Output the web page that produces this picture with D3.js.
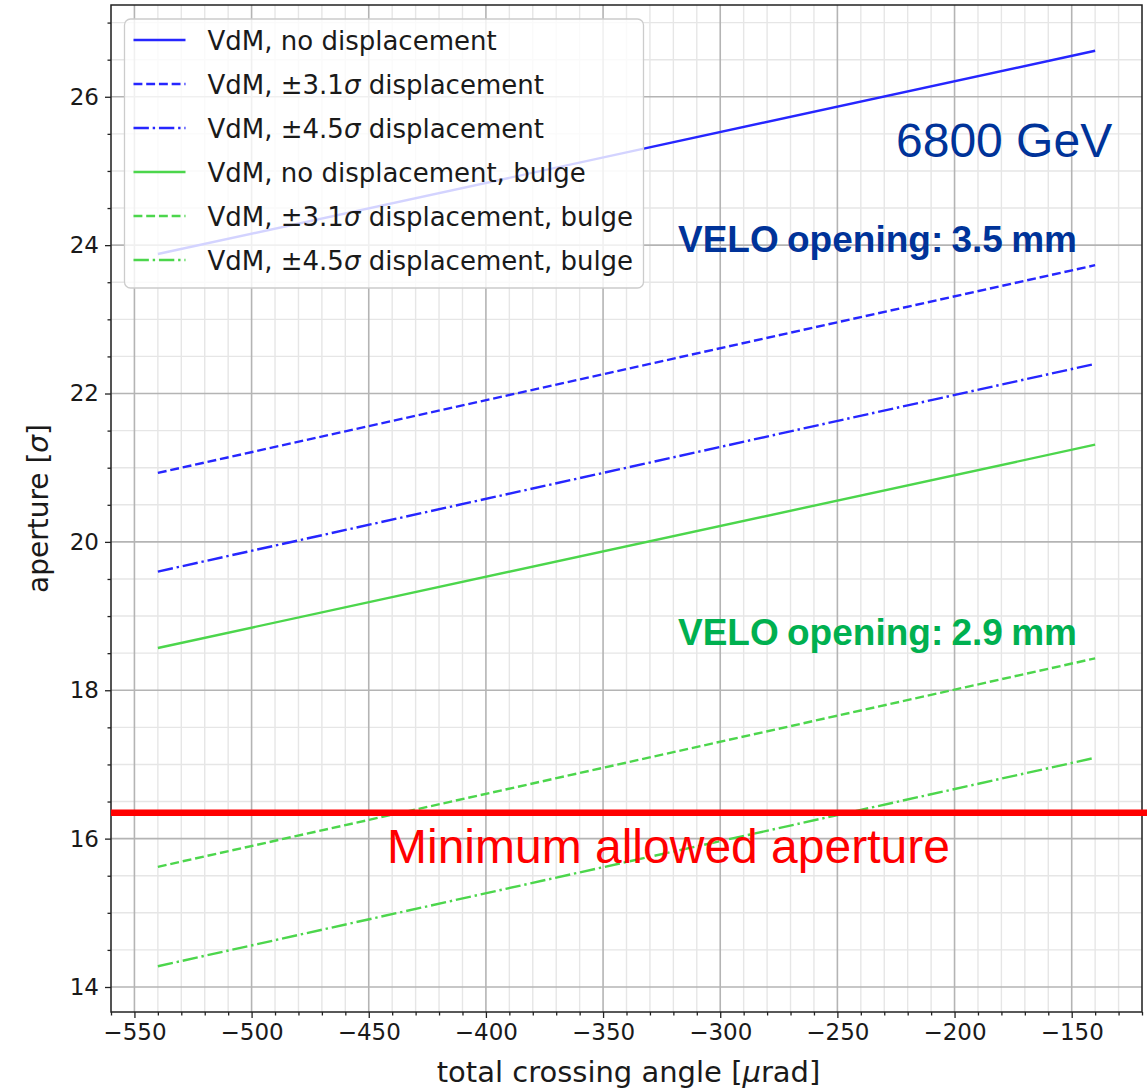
<!DOCTYPE html>
<html>
<head>
<meta charset="utf-8">
<script src="https://cdn.jsdelivr.net/npm/d3@7"></script>
<style>
  html, body { margin: 0; padding: 0; background: #fff; }
  svg { display: block; }
</style>
</head>
<body>
<svg id="chart" width="1147" height="1089"></svg>
<script>
// Total crossing angle (µrad) at which each aperture curve is evaluated
const crossingAngles = [-540, -140];

// Aperture in units of beam sigma
const vdmNoDisp        = [23.88, 26.62];
const vdm31Disp        = [20.93, 23.73];
const vdm45Disp        = [19.60, 22.40];
const vdmNoDispBulge   = [18.57, 21.31];
const vdm31DispBulge   = [15.62, 18.43];
const vdm45DispBulge   = [14.28, 17.09];

// Minimum allowed aperture (sigma)
const minAperture = 16.35;

const xTickValues = [-550, -500, -450, -400, -350, -300, -250, -200, -150];
const yTickValues = [14, 16, 18, 20, 22, 24, 26];

const seriesLabels = [
  ["VdM, no displacement"],
  ["VdM, ", "±3.1", "σ", " displacement"],
  ["VdM, ", "±4.5", "σ", " displacement"],
  ["VdM, no displacement, bulge"],
  ["VdM, ", "±3.1", "σ", " displacement, bulge"],
  ["VdM, ", "±4.5", "σ", " displacement, bulge"]
];
const seriesValues = [vdmNoDisp, vdm31Disp, vdm45Disp, vdmNoDispBulge, vdm31DispBulge, vdm45DispBulge];

const BLUE = "#2626ff", GREEN = "#4cd64c";
const lw = 2.4;
const dashes = {
  solid: null,
  dashed: [3.7 * lw, 1.6 * lw].join(","),
  dashdot: [6.4 * lw, 1.6 * lw, 1 * lw, 1.6 * lw].join(",")
};
const seriesStyle = [
  { color: BLUE,  dash: dashes.solid },
  { color: BLUE,  dash: dashes.dashed },
  { color: BLUE,  dash: dashes.dashdot },
  { color: GREEN, dash: dashes.solid },
  { color: GREEN, dash: dashes.dashed },
  { color: GREEN, dash: dashes.dashdot }
];

const svg = d3.select("#chart");
const W = 1147, H = 1089;
const plot = { left: 111, right: 1142, top: 5, bottom: 1012 };

// Autoscaled limits with 5% margins around the data
const allY = seriesValues.flat();
const yMin = d3.min(allY), yMax = d3.max(allY);
const xMin = d3.min(crossingAngles), xMax = d3.max(crossingAngles);
const xm = (xMax - xMin) * 0.05, ym = (yMax - yMin) * 0.05;

const x = d3.scaleLinear().domain([xMin - xm, xMax + xm]).range([plot.left, plot.right]);
const y = d3.scaleLinear().domain([yMin - ym, yMax + ym]).range([plot.bottom, plot.top]);

const FONT = "'DejaVu Sans', sans-serif";
const TXT = "#1a1a1a";

// Grid: minor then major
const xMinor = d3.range(-560, -119, 10).filter(v => v % 50 !== 0 && v >= x.domain()[0] && v <= x.domain()[1]);
const yMinor = d3.range(13.5, 27.5, 0.5).filter(v => v % 2 !== 0 && v >= y.domain()[0] && v <= y.domain()[1]);

const grid = svg.append("g");
grid.selectAll(".gxm").data(xMinor).join("line")
  .attr("x1", d => x(d)).attr("x2", d => x(d)).attr("y1", plot.top).attr("y2", plot.bottom)
  .attr("stroke", "#e6e6e6").attr("stroke-width", 1.4);
grid.selectAll(".gym").data(yMinor).join("line")
  .attr("y1", d => y(d)).attr("y2", d => y(d)).attr("x1", plot.left).attr("x2", plot.right)
  .attr("stroke", "#e6e6e6").attr("stroke-width", 1.4);
grid.selectAll(".gx").data(xTickValues).join("line")
  .attr("x1", d => x(d)).attr("x2", d => x(d)).attr("y1", plot.top).attr("y2", plot.bottom)
  .attr("stroke", "#b4b4b4").attr("stroke-width", 1.6);
grid.selectAll(".gy").data(yTickValues).join("line")
  .attr("y1", d => y(d)).attr("y2", d => y(d)).attr("x1", plot.left).attr("x2", plot.right)
  .attr("stroke", "#b4b4b4").attr("stroke-width", 1.6);

// Data lines
const line = d3.line().x(d => x(d[0])).y(d => y(d[1]));
seriesValues.forEach((vals, i) => {
  const pts = crossingAngles.map((a, j) => [a, vals[j]]);
  svg.append("path").datum(pts)
    .attr("d", line)
    .attr("fill", "none")
    .attr("stroke", seriesStyle[i].color)
    .attr("stroke-width", lw)
    .attr("stroke-dasharray", seriesStyle[i].dash);
});

// Axes
const fmt = d => String(d).replace("-", "\u2212");
const xAxis = d3.axisBottom(x).tickValues(xTickValues).tickFormat(fmt).tickSizeInner(6).tickSizeOuter(0).tickPadding(6);
const yAxis = d3.axisLeft(y).tickValues(yTickValues).tickFormat(fmt).tickSizeInner(6).tickSizeOuter(0).tickPadding(6);
const xMinorAxis = d3.axisBottom(x).tickValues(xMinor).tickFormat("").tickSizeInner(3.5).tickSizeOuter(0);
const yMinorAxis = d3.axisLeft(y).tickValues(yMinor).tickFormat("").tickSizeInner(3.5).tickSizeOuter(0);

function styleAxis(g) {
  g.select(".domain").remove();
  g.selectAll(".tick line").attr("stroke", "#222").attr("stroke-width", 1.3);
  g.selectAll(".tick text").attr("fill", TXT).style("font-family", FONT).style("font-size", "23px");
}
svg.append("g").attr("transform", `translate(0,${plot.bottom})`).call(xMinorAxis).call(styleAxis);
svg.append("g").attr("transform", `translate(${plot.left},0)`).call(yMinorAxis).call(styleAxis);
svg.append("g").attr("transform", `translate(0,${plot.bottom})`).call(xAxis).call(styleAxis);
svg.append("g").attr("transform", `translate(${plot.left},0)`).call(yAxis).call(styleAxis);

// Frame
svg.append("rect")
  .attr("x", plot.left).attr("y", plot.top)
  .attr("width", plot.right - plot.left).attr("height", plot.bottom - plot.top)
  .attr("fill", "none").attr("stroke", "#222").attr("stroke-width", 1.5);

// Axis labels
const xl = svg.append("text")
  .attr("x", (plot.left + plot.right) / 2 + 2).attr("y", 1082)
  .attr("text-anchor", "middle").attr("fill", TXT)
  .style("font-family", FONT).style("font-size", "29px");
xl.append("tspan").text("total crossing angle [");
xl.append("tspan").text("μ").style("font-style", "italic");
xl.append("tspan").text("rad]");

const yl = svg.append("text")
  .attr("transform", `translate(48,${(plot.top + plot.bottom) / 2}) rotate(-90)`)
  .attr("text-anchor", "middle").attr("fill", TXT)
  .style("font-family", FONT).style("font-size", "28px");
yl.append("tspan").text("aperture [");
yl.append("tspan").text("σ").style("font-style", "italic");
yl.append("tspan").text("]");

// Legend
const leg = svg.append("g").attr("transform", "translate(124.5,19)");
leg.append("rect")
  .attr("width", 519).attr("height", 269).attr("rx", 6)
  .attr("fill", "#fff").attr("fill-opacity", 0.8)
  .attr("stroke", "#cccccc").attr("stroke-width", 1.3);
seriesLabels.forEach((parts, i) => {
  const cy = 21 + i * 44;
  leg.append("line")
    .attr("x1", 9).attr("x2", 61).attr("y1", cy).attr("y2", cy)
    .attr("stroke", seriesStyle[i].color).attr("stroke-width", lw)
    .attr("stroke-dasharray", seriesStyle[i].dash);
  const t = leg.append("text")
    .attr("x", 83).attr("y", cy + 10).attr("fill", TXT)
    .style("font-family", FONT).style("font-size", "26px");
  parts.forEach(p => {
    const s = t.append("tspan").text(p);
    if (p === "σ") s.style("font-style", "italic");
  });
});

// Annotations
const ARIAL = "'Liberation Sans', Arial, sans-serif";
svg.append("text").attr("x", 896).attr("y", 157)
  .attr("fill", "#003399").style("font-family", ARIAL).style("font-size", "48px")
  .text("6800 GeV");
svg.append("text").attr("x", 678).attr("y", 252)
  .attr("fill", "#003399").style("font-family", ARIAL).style("font-size", "37px")
  .style("font-weight", "bold").style("word-spacing", "-2px")
  .text("VELO opening: 3.5 mm");
svg.append("text").attr("x", 678).attr("y", 645)
  .attr("fill", "#00b050").style("font-family", ARIAL).style("font-size", "37px")
  .style("font-weight", "bold").style("word-spacing", "-2px")
  .text("VELO opening: 2.9 mm");

// Minimum allowed aperture line and label
svg.append("line")
  .attr("x1", plot.left).attr("x2", W)
  .attr("y1", y(minAperture)).attr("y2", y(minAperture))
  .attr("stroke", "#ff0000").attr("stroke-width", 6.5);
svg.append("text").attr("x", 387).attr("y", 863)
  .attr("fill", "#ff0000").style("font-family", ARIAL).style("font-size", "48px")
  .text("Minimum allowed aperture");
</script>
</body>
</html>
